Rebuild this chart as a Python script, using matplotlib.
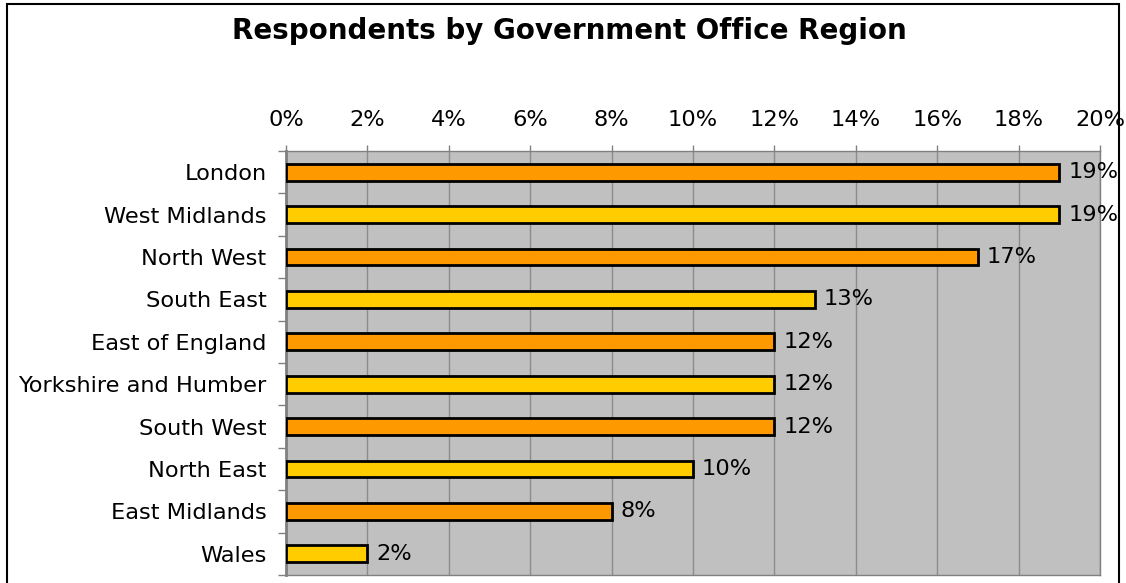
import matplotlib
matplotlib.use("Agg")
import matplotlib.pyplot as plt
from matplotlib.patches import Rectangle
from matplotlib.ticker import MultipleLocator, FuncFormatter

regions = ["London", "West Midlands", "North West", "South East", "East of England",
           "Yorkshire and Humber", "South West", "North East", "East Midlands", "Wales"]
percentages = [19, 19, 17, 13, 12, 12, 12, 10, 8, 2]
bar_colors = ["#FF9900", "#FFCC00"]

plt.rcParams["font.family"] = ["DejaVu Sans"]

fig = plt.figure(figsize=(11.26, 5.83), dpi=100)
fig.patches.append(Rectangle((7 / 1126, -0.05), 1112 / 1126, 1 - 4 / 583 + 0.05,
                             transform=fig.transFigure, fill=False,
                             edgecolor="#000000", linewidth=1.5, zorder=0))

ax = fig.add_axes([286 / 1126, 8 / 583, 814 / 1126, 424 / 583])
ax.set_facecolor("#C0C0C0")

ypos = list(range(len(regions)))
colors = [bar_colors[i % 2] for i in ypos]
ax.barh(ypos, percentages, height=0.4, color=colors,
        edgecolor="#000000", linewidth=2, zorder=3)
for y, v in zip(ypos, percentages):
    ax.text(v + 0.22, y, f"{v}%", va="center", ha="left", fontsize=16.2, zorder=4)

ax.set_xlim(0, 20)
ax.set_ylim(len(regions) - 0.5, -0.5)
ax.xaxis.set_major_locator(MultipleLocator(2))
ax.xaxis.set_major_formatter(FuncFormatter(lambda x, _: f"{x:.0f}%"))
ax.xaxis.tick_top()
ax.tick_params(axis="x", length=4, width=1, color="#808080", labelsize=16.2, pad=11)
ax.grid(axis="x", color="#8C8C8C", linewidth=1, zorder=1)

ax.set_yticks(ypos)
ax.set_yticklabels(regions, fontsize=16.2)
ax.tick_params(axis="y", length=0, pad=14)
ax.set_yticks([i + 0.5 for i in range(-1, len(regions))], minor=True)
ax.tick_params(axis="y", which="minor", length=6, width=1, color="#808080")

for side in ["top", "right", "bottom"]:
    ax.spines[side].set_color("#808080")
    ax.spines[side].set_linewidth(1)
ax.spines["left"].set_color("#808080")
ax.spines["left"].set_linewidth(2)

fig.text(569 / 1126, 1 - 31 / 583, "Respondents by Government Office Region",
         ha="center", va="center", fontsize=20, fontweight="bold")

fig.savefig("out.png", dpi=100)
